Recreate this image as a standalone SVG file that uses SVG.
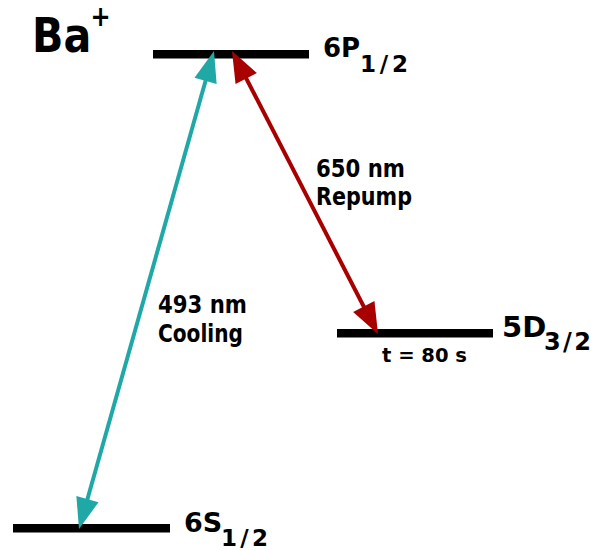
<svg xmlns="http://www.w3.org/2000/svg" width="593" height="550" viewBox="0 0 593 550">
<style>
text{font-family:"DejaVu Sans","Verdana",sans-serif;font-weight:bold;fill:#000}
.lvl{fill:#000}
.teal{stroke:#20A8A6;stroke-width:4;fill:none}
.tealh{fill:#20A8A6}
.red{stroke:#A80000;stroke-width:4;fill:none}
.redh{fill:#A80000}
</style>
<rect width="593" height="550" fill="#fff"/>
<g id="title">
<text transform="translate(32,52) scale(0.86,1)" font-size="48">Ba<tspan x="68" y="-26" font-size="28">+</tspan></text>
</g>
<g id="level-6P">
<rect class="lvl" x="153" y="50" width="156" height="8.5"/>
<text x="323" y="57" font-size="26">6P</text>
<text x="360" y="72" font-size="23" textLength="48" lengthAdjust="spacing">1/2</text>
</g>
<g id="level-5D">
<rect class="lvl" x="337" y="329" width="156" height="8.5"/>
<text x="502" y="337" font-size="29">5D</text>
<text x="544" y="350" font-size="24" textLength="47" lengthAdjust="spacing">3/2</text>
<text x="382" y="362" font-size="20" textLength="85" lengthAdjust="spacingAndGlyphs">t = 80 s</text>
</g>
<g id="level-6S">
<rect class="lvl" x="13" y="524" width="157" height="8.5"/>
<text x="184" y="532" font-size="27">6S</text>
<text x="221" y="546" font-size="23" textLength="47" lengthAdjust="spacing">1/2</text>
</g>
<g id="connectors">
<g id="cooling">
<line class="teal" x1="206.5" y1="77.5" x2="86.5" y2="502.5"/>
<polygon class="tealh" points="214,51 216.64,83.96 194.5,77.7"/>
<polygon class="tealh" points="79,529 98.5,502.3 76.36,496.04"/>
</g>
<g id="repump">
<line class="red" x1="245" y1="76" x2="365" y2="309"/>
<polygon class="redh" points="232,51 235.55,84.05 256.87,73.05"/>
<polygon class="redh" points="378,334 353.13,311.95 374.45,300.95"/>
</g>
</g>
<g id="label-cooling">
<text x="158" y="313" font-size="25" textLength="89" lengthAdjust="spacingAndGlyphs">493 nm</text>
<text x="158" y="342" font-size="25" textLength="85" lengthAdjust="spacingAndGlyphs">Cooling</text>
</g>
<g id="label-repump">
<text x="316" y="177" font-size="25" textLength="89" lengthAdjust="spacingAndGlyphs">650 nm</text>
<text x="316" y="205" font-size="25" textLength="96" lengthAdjust="spacingAndGlyphs">Repump</text>
</g>
</svg>
